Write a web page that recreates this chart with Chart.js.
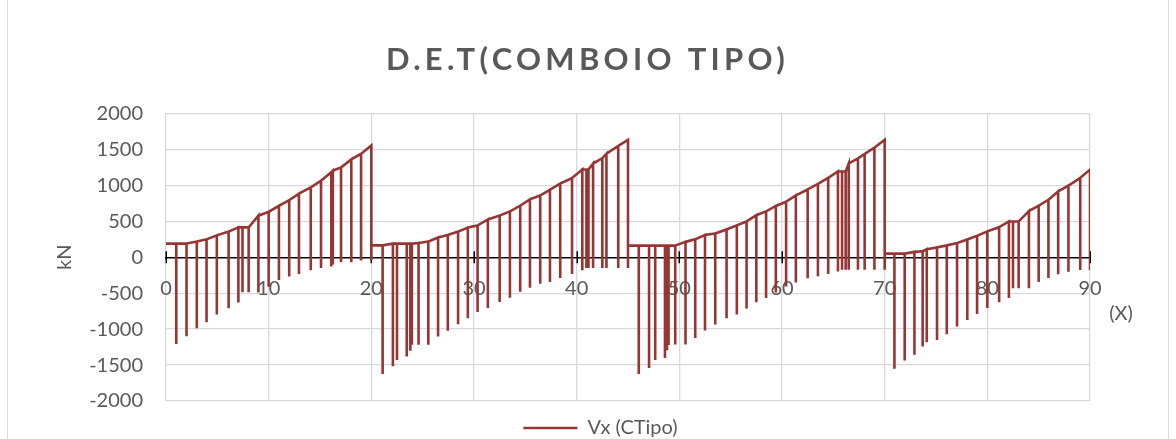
<!DOCTYPE html>
<html>
<head>
<meta charset="utf-8">
<title>D.E.T (Comboio Tipo)</title>
<script src="https://cdn.jsdelivr.net/npm/chart.js@4.4.1/dist/chart.umd.min.js"></script>
<style>
  html, body { margin: 0; padding: 0; overflow: hidden; background: #ffffff; }
  #frame { position: absolute; left: 7px; top: -2px; width: 1162px; height: 480px; border: 1px solid #d9d9d9; box-sizing: border-box; }
  #wrap { position: absolute; left: 0; top: 0; width: 1176px; height: 448px; }
</style>
</head>
<body>
<div id="frame"></div>
<div id="wrap"><canvas id="chart" width="1176" height="448"></canvas></div>
<script>
// Shear force envelope of the standard train load (kN) along the deck (m).
// Each station has a max and a min value; the trace drops from max to min and back.
const stationX = [
  0, 1, 2, 3, 3.95, 4.95, 6.1, 7.05, 7.45, 8.05, 9, 10, 11, 12, 12.95, 14.1, 15.1, 16.1, 16.25, 17.05, 18.05, 19, 20,
  20, 21.1, 22.1, 22.5, 23.45, 23.8, 23.95, 24.6, 25.55, 26.5, 27.45, 28.45, 29.4, 30.35, 31.35, 32.5, 33.5, 34.5, 35.45, 36.45, 37.4, 38.4, 39.55, 40.55, 40.95, 41.15, 41.6, 42.5, 42.9, 44.05, 45,
  45, 46.05, 47.05, 47.65, 48.6, 48.8, 48.95, 49.6, 50.6, 51.55, 52.5, 53.5, 54.6, 55.6, 56.55, 57.5, 58.45, 59.4, 60.4, 61.35, 62.5, 63.5, 64.5, 65.45, 65.85, 66.2, 66.5, 67.4, 68.05, 69, 70,
  70, 70.95, 71.95, 72.9, 73.7, 74.1, 75.1, 76.05, 77.05, 78.05, 79, 80, 81.15, 82.1, 82.5, 83.05, 84.05, 85, 85.95, 86.9, 87.9, 89.05, 90
];

const vxMax = [
  190, 190, 190, 218, 250, 305, 358, 415, 415, 415, 578, 632, 716, 795, 885, 972, 1065, 1183, 1204, 1250, 1362, 1440, 1556,
  165, 165, 190, 190, 190, 190, 190, 198, 218, 274, 310, 358, 413, 443, 526, 580, 638, 718, 805, 860, 939, 1025, 1102, 1220, 1220, 1220, 1303, 1378, 1440, 1548, 1634,
  162, 162, 162, 162, 162, 162, 162, 162, 214, 250, 310, 330, 387, 443, 498, 585, 638, 714, 772, 860, 943, 1020, 1105, 1194, 1194, 1194, 1305, 1375, 1437, 1525, 1634,
  50, 50, 50, 75, 85, 110, 137, 165, 197, 248, 299, 360, 418, 498, 498, 498, 642, 718, 800, 916, 997, 1105, 1219
];

const vxMin = [
  190, -1208, -1100, -988, -905, -795, -710, -628, -488, -488, -492, -412, -318, -268, -232, -180, -150, -128, -102, -70, -70, -44, -42,
  165, -1625, -1518, -1430, -1380, -1300, -1218, -1218, -1218, -1102, -1022, -931, -847, -762, -705, -622, -565, -481, -426, -370, -343, -287, -232, -180, -150, -150, -150, -150, -150, -150, -150,
  162, -1625, -1540, -1430, -1400, -1295, -1220, -1215, -1213, -1125, -1020, -935, -850, -795, -712, -625, -568, -490, -406, -350, -292, -266, -232, -197, -173, -173, -173, -173, -173, -173, -173,
  50, -1550, -1435, -1355, -1240, -1183, -1150, -1070, -962, -874, -790, -707, -626, -568, -430, -430, -432, -345, -290, -235, -202, -176, -176
];

const xTicks = [0, 10, 20, 30, 40, 50, 60, 70, 80, 90];
const yTicks = [-2000, -1500, -1000, -500, 0, 500, 1000, 1500, 2000];

const chartTitle = 'D.E.T(COMBOIO TIPO)';
const seriesName = 'Vx (CTipo)';
const yAxisTitle = 'kN';
const xAxisTitle = '(X)';

// trace: max -> min -> max at every station
const trace = [];
stationX.forEach((x, i) => {
  trace.push({ x: x, y: vxMax[i] });
  if (vxMin[i] !== vxMax[i]) {
    trace.push({ x: x, y: vxMin[i] });
    trace.push({ x: x, y: vxMax[i] });
  }
});

const GRID = '#d9d9d9';
const TEXT = '#595959';
const RED = '#963634';

Chart.defaults.font.family = 'Lato, "Open Sans", sans-serif';
Chart.defaults.color = TEXT;

// spaced title lettering
const spacedTitle = {
  id: 'spacedTitle',
  afterInit(chart) {
    const tb = chart.titleBlock;
    if (!tb) return;
    const base = tb.draw;
    tb.draw = function (...args) {
      const ctx = this.ctx;
      ctx.save();
      ctx.letterSpacing = '4.3px';
      ctx.translate(-13, 0);
      base.apply(this, args);
      ctx.restore();
    };
  }
};

// cross tick marks on the zero axis
const crossTicks = {
  id: 'crossTicks',
  beforeDatasetsDraw(chart) {
    const { ctx, scales: { x, y } } = chart;
    const y0 = y.getPixelForValue(0);
    ctx.save();
    ctx.strokeStyle = '#000000';
    ctx.lineWidth = 1.5;
    x.ticks.forEach(t => {
      const px = Math.round(x.getPixelForValue(t.value)) + 0.25;
      ctx.beginPath();
      ctx.moveTo(px, y0 - 6);
      ctx.lineTo(px, y0 + 6);
      ctx.stroke();
    });
    ctx.restore();
  }
};

// horizontal axis caption at the right end
const xCaption = {
  id: 'xCaption',
  afterDraw(chart) {
    const { ctx, chartArea, scales: { y } } = chart;
    ctx.save();
    ctx.font = '20px Lato, "Open Sans", sans-serif';
    ctx.fillStyle = TEXT;
    ctx.textAlign = 'center';
    ctx.textBaseline = 'middle';
    ctx.fillText(xAxisTitle, chartArea.right + 31, y.getPixelForValue(0) + 56);
    ctx.restore();
  }
};

new Chart(document.getElementById('chart'), {
  type: 'scatter',
  data: {
    datasets: [{
      label: seriesName,
      data: trace,
      showLine: true,
      borderColor: RED,
      backgroundColor: RED,
      borderWidth: 2.6,
      pointRadius: 0,
      pointHoverRadius: 0,
      tension: 0,
      fill: false,
      yAxisID: 'y'
    }]
  },
  options: {
    responsive: false,
    devicePixelRatio: 1,
    animation: false,
    events: [],
    layout: { padding: { left: 25, right: 0, top: 0, bottom: 0 } },
    plugins: {
      tooltip: { enabled: false },
      title: {
        display: true,
        text: chartTitle,
        color: TEXT,
        font: { size: 31, weight: 'bold', family: 'Lato, "Open Sans", sans-serif', lineHeight: 1.2 },
        padding: { top: 41.5, bottom: 34.8 }
      },
      legend: {
        display: true,
        position: 'bottom',
        labels: {
          color: TEXT,
          font: { size: 20 },
          usePointStyle: true,
          pointStyle: 'line',
          pointStyleWidth: 54,
          padding: 17
        }
      }
    },
    scales: {
      x: {
        type: 'linear',
        position: { y: 0 },
        min: xTicks[0],
        max: xTicks[xTicks.length - 1],
        afterBuildTicks(s) { s.ticks = xTicks.map(v => ({ value: v })); },
        grid: { color: GRID, lineWidth: 1.3, drawTicks: false },
        border: { display: true, color: '#000000', width: 1.5 },
        ticks: {
          padding: 19,
          color: TEXT,
          font: { size: 20 },
          maxRotation: 0,
          callback: v => String(v)
        }
      },
      y: {
        type: 'linear',
        position: 'left',
        min: yTicks[0],
        max: yTicks[yTicks.length - 1],
        afterBuildTicks(s) { s.ticks = yTicks.map(v => ({ value: v })); },
        afterFit(s) { s.width = 141; },
        grid: {
          color: c => (c.tick && c.tick.value === 0 ? 'rgba(0,0,0,0)' : GRID),
          lineWidth: 1.3,
          drawTicks: false
        },
        border: { display: false },
        ticks: {
          padding: 23,
          color: TEXT,
          font: { size: 20 },
          callback: v => String(v)
        },
        title: {
          display: true,
          text: yAxisTitle,
          color: TEXT,
          font: { size: 20 },
          padding: { top: 28, bottom: 0 }
        }
      },
      yR: {
        type: 'linear',
        position: 'right',
        display: true,
        afterFit(s) { s.width = 86; },
        grid: { display: false, drawTicks: false },
        border: { display: false },
        ticks: { display: false }
      }
    }
  },
  plugins: [spacedTitle, crossTicks, xCaption]
});
</script>
</body>
</html>
